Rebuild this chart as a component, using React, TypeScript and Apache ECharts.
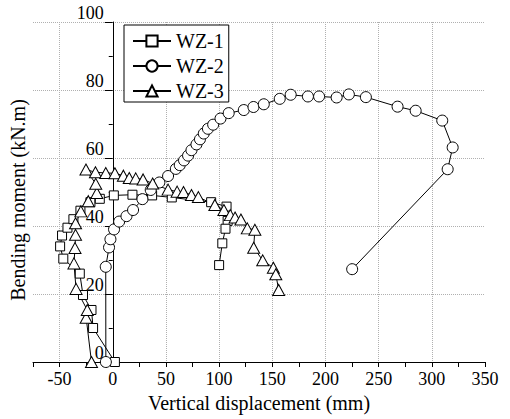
import React, { useEffect, useRef } from "react";
import * as echarts from "echarts";

const SERIES_NAMES = ["WZ-1", "WZ-2", "WZ-3"];

const WZ1_X = [2, -18.5, -20, -28, -31, -46.5, -49.5, -47.7, -42.6, -37, -30.4, -21, -12.2, 1, 18.5, 37, 55.5, 92.5, 107, 108, 106, 103, 100];
const WZ1_Y = [0, 10, 15.3, 19.7, 26, 30.4, 34, 37.2, 39.5, 42, 44.5, 47, 48, 49, 49.2, 49, 48.4, 47, 45.7, 41.5, 39.2, 34.9, 28.5];

const WZ2_X = [-6.5, -6.6, -3.5, -2.2, 1.2, 6, 12.9, 19.1, 27.9, 35.7, 43.8, 52, 59.3, 63, 67, 70.8, 74, 78.7, 82, 85.6, 89.5, 94.4, 101.3, 109, 123.2, 132.3, 142, 157, 167.3, 183.5, 194, 210.5, 222, 238, 267.8, 284.8, 309.8, 319.6, 314.9, 225.1];
const WZ2_Y = [0, 28, 33.7, 36.1, 39, 41.3, 42.9, 44.7, 47.9, 50.6, 52.8, 54.7, 56.8, 57.9, 59.3, 60.7, 62.3, 64, 65.5, 67.2, 68.6, 69.8, 71.6, 73.2, 74.1, 75, 75.8, 77.4, 78.6, 78.1, 78.1, 77.8, 78.7, 77.9, 75.1, 73.9, 71, 63.1, 56.7, 27.3];

const WZ3_X = [-20, -25, -24, -34.5, -36.5, -35.5, -35, -35, -30, -23, -15, -16, -25.2, -16.3, -6.6, 2, 10, 15.5, 21.6, 28.5, 37.5, 52, 60.5, 66.5, 74, 80.5, 96, 104.5, 110.5, 115, 120.5, 126.5, 133.6, 132.5, 141, 151, 153.3, 156];
const WZ3_Y = [0, 13, 15.3, 21.5, 29, 33.5, 37.4, 40.8, 44.3, 47.3, 49.7, 52.4, 56.6, 55.8, 55.6, 55.5, 54.8, 54.1, 54, 53.7, 52.5, 50.7, 50.1, 50, 49.1, 48.5, 46.2, 44.7, 43.2, 42.5, 41.9, 39.3, 38.9, 33.6, 29.9, 27.7, 25.8, 21.2];

const X_MIN = -75;
const X_MAX = 350;
const X_STEP = 25;
const Y_MIN = 0;
const Y_MAX = 100;
const Y_STEP = 20;

const X_TITLE = "Vertical displacement (mm)";
const Y_TITLE = "Bending moment (kN.m)";

const FONT = "Liberation Serif";

const GRID_LEFT = 33;
const GRID_RIGHT = 25;
const CHART_W = 510;

function pairs(xs: number[], ys: number[]) {
  return xs.map((x, i) => [x, ys[i]]);
}

export default function App() {
  const ref = useRef<HTMLDivElement>(null);

  useEffect(() => {
    if (!ref.current) return;
    const chart = echarts.init(ref.current, undefined, { renderer: "svg" });

    // place the y axis line at x = 0 of the x axis
    const plotW = CHART_W - GRID_LEFT - GRID_RIGHT;
    const zeroOffset = ((0 - X_MIN) / (X_MAX - X_MIN)) * plotW;

    const mk = (name: string, xs: number[], ys: number[], symbol: string, size: number | number[]) => ({
      name,
      type: "line",
      data: pairs(xs, ys),
      symbol,
      symbolSize: size,
      showSymbol: true,
      itemStyle: { color: "#fff", borderColor: "#000", borderWidth: 1 },
      lineStyle: { color: "#000", width: 1 },
      emphasis: { disabled: true },
      z: 3,
    });

    chart.setOption({
      animation: false,
      textStyle: { fontFamily: FONT, color: "#000" },
      grid: { left: GRID_LEFT, right: GRID_RIGHT, top: 22, bottom: 57, containLabel: false },
      legend: {
        orient: "vertical",
        left: 124,
        top: 25,
        itemWidth: 38,
        itemHeight: 14,
        itemGap: 5,
        padding: [6, 5, 1, 8],
        borderColor: "#000",
        borderWidth: 1,
        borderRadius: 0,
        backgroundColor: "#fff",
        selectedMode: false,
        textStyle: { fontSize: 20, fontFamily: FONT, color: "#000", fontWeight: "normal" },
        data: SERIES_NAMES,
      },
      xAxis: {
        type: "value",
        min: X_MIN,
        max: X_MAX,
        interval: X_STEP,
        axisLine: { show: true, onZero: false, lineStyle: { color: "#000", width: 1 } },
        axisTick: { show: true, length: 5, lineStyle: { color: "#000", width: 1 } },
        axisLabel: {
          formatter: (v: number) => (v % 50 === 0 ? String(v) : ""),
          color: "#000",
          fontSize: 18,
          fontFamily: FONT,
          fontWeight: "normal",
          margin: 8,
        },
        splitLine: {
          show: true,
          showMinLine: false,
          showMaxLine: false,
          lineStyle: { color: ["#b0b0b0", "transparent"], type: "dotted", width: 1 },
        },
        name: X_TITLE,
        nameLocation: "middle",
        nameGap: 30,
        nameTextStyle: { fontSize: 20, fontFamily: FONT, color: "#000" },
      },
      yAxis: {
        type: "value",
        min: Y_MIN,
        max: Y_MAX,
        interval: Y_STEP,
        offset: -zeroOffset,
        axisLine: { show: true, onZero: false, lineStyle: { color: "#000", width: 1 } },
        axisTick: { show: true, length: 8, lineStyle: { color: "#000", width: 1 } },
        minorTick: { show: true, splitNumber: 2, length: 4, lineStyle: { color: "#000", width: 1 } },
        axisLabel: {
          color: "#000",
          fontSize: 18,
          fontFamily: FONT,
          fontWeight: "normal",
          margin: 9,
          verticalAlign: "bottom",
        },
        splitLine: {
          show: true,
          showMinLine: false,
          lineStyle: { color: "#b0b0b0", type: "dotted", width: 1 },
        },
      },
      graphic: [
        {
          type: "text",
          x: 18,
          y: 200,
          rotation: Math.PI / 2,
          style: {
            text: Y_TITLE,
            fontSize: 20,
            fontFamily: FONT,
            fill: "#000",
            align: "center",
            verticalAlign: "middle",
          },
        },
      ],
      series: [
        mk(SERIES_NAMES[0], WZ1_X, WZ1_Y, "rect", 9),
        mk(SERIES_NAMES[1], WZ2_X, WZ2_Y, "circle", 11),
        mk(SERIES_NAMES[2], WZ3_X, WZ3_Y, "triangle", [12, 11]),
      ],
    });

    return () => chart.dispose();
  }, []);

  return (
    <div
      ref={ref}
      style={{ position: "fixed", left: 0, top: 0, width: CHART_W, height: 419, background: "#fff" }}
    />
  );
}
